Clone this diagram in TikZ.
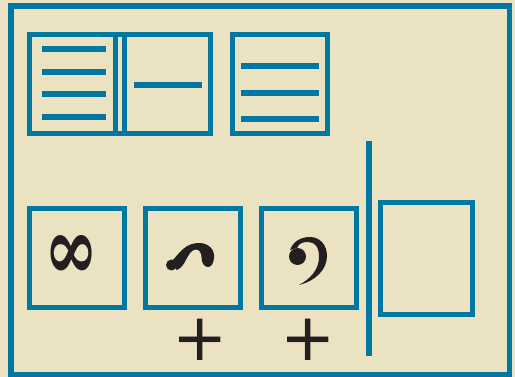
\documentclass[tikz,border=0pt]{standalone}
\usepackage{amsmath,amssymb}
\usepackage{fontspec}
\usetikzlibrary{positioning,calc}
\newfontfamily\plusfont{DejaVu Sans}
\newfontfamily\loopfont{DejaVu Serif}
\definecolor{frameblue}{HTML}{0078A2}
\definecolor{parchment}{HTML}{EBE2C2}
\definecolor{inkblack}{HTML}{231F20}
\tikzset{
  slotbox/.style={draw=frameblue,line width=5pt,minimum width=95pt,minimum height=99pt,
    inner sep=0pt,outer sep=0pt},
  staffline/.style={draw=frameblue,line width=6pt},
  barline/.style={draw=frameblue,line width=6pt},
  glyph/.style={text=inkblack,inner sep=0pt},
  plussign/.style={font=\plusfont\fontsize{66}{66}\selectfont,text=inkblack,inner sep=0pt}
}

\begin{document}
\begin{tikzpicture}[x=1pt,y=-1pt]
  \fill[parchment] (0,0) rectangle (515,377);
  \useasboundingbox (0,0) rectangle (515,377);
  \draw[frameblue,line width=5.5pt] (11,6) rectangle (509.5,374.5);
  % upper row
  \node[slotbox,minimum width=86pt] (box1) at (72.5,84) {};
  \node[slotbox,minimum width=86pt,right=9pt of box1] (box2) {};
  \node[slotbox,right=22pt of box2] (box3) {};
  \draw[frameblue,line width=5pt] (box1.north east) -- (box2.north west);
  \draw[frameblue,line width=5pt] (box1.south east) -- (box2.south west);
  \foreach \y in {49,72,94,117}
    \draw[staffline] (42,\y) -- (106,\y);
  \draw[staffline] (134,85) -- (202,85);
  \foreach \y in {66,93,119}
    \draw[staffline] (241,\y) -- (319,\y);
  % lower row
  \node[slotbox] (boxA) at (77,258) {};
  \node[slotbox,right=21pt of boxA] (boxB) {};
  \node[slotbox,right=21pt of boxB] (boxC) {};
  \node[slotbox,minimum width=92pt,minimum height=112pt] (boxD) at (426.5,258.5) {};
  \coordinate (bartop) at (369,141);
  \coordinate (barbot) at (369,356);
  \draw[barline] (bartop) -- (barbot);
  \node[glyph] (lemniscate) at ($(boxA.center)+(-5.5,-1)$)
    {\resizebox{54pt}{44pt}{\loopfont\bfseries ∞}};
  % left hook
  \fill[inkblack] (173,260) .. controls (180,252) and (186,243) .. (199,243)
    .. controls (209,243) and (215,250) .. (214,258)
    .. controls (213.5,264) and (211,267) .. (208,267)
    .. controls (204,267) and (201.5,263) .. (201.5,257)
    .. controls (201.5,252.5) and (199,249.5) .. (196,249.5)
    .. controls (191,249.5) and (188,256) .. (184.5,262.5)
    .. controls (182.5,266) and (180,269) .. (176.5,270) -- cycle;
  \fill[inkblack] (171.5,265) circle (5.5);
  % right hook
  \fill[inkblack] (290,250) .. controls (293,242) and (300,237) .. (310,237)
    .. controls (320,237) and (327,245) .. (327,256)
    .. controls (327,270) and (315,281) .. (299,285)
    .. controls (310,279) and (319,270) .. (319,257)
    .. controls (319,247) and (315,242) .. (308,242)
    .. controls (303,242) and (299,243) .. (297,248) -- cycle;
  \fill[inkblack] (297.5,256.5) circle (8.5);
  \node[plussign] (plusB) at (200,340) {+};
  \node[plussign] (plusC) at (308,340) {+};
\end{tikzpicture}
\end{document}
